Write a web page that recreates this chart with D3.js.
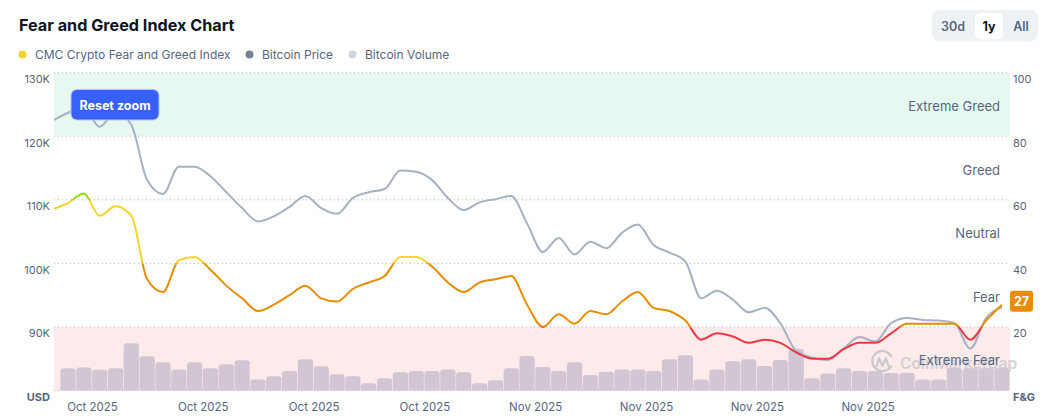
<!DOCTYPE html>
<html>
<head>
<meta charset="utf-8">
<script src="https://cdn.jsdelivr.net/npm/d3@7/dist/d3.min.js"></script>
<style>
  html, body { margin: 0; padding: 0; background: #ffffff; }
  svg { display: block; font-family: Inter, "Noto Sans", sans-serif; }
</style>
</head>
<body>
<svg id="chart" width="1050" height="419"></svg>
<script>
// ---------------- DATA ----------------
// Daily points, 2025-10-04 .. 2025-12-03 (first point only partly visible)
const startDay = "2025-10-04";
const fearGreed = [57, 59, 62, 55, 58, 55, 35, 31, 41, 42, 38, 33, 29, 25, 27, 30, 33, 29, 28, 32,
  34, 36, 42, 42, 39, 34, 31, 34, 35, 36, 27, 20, 24, 21, 25, 24, 28, 31, 26, 25,
  22, 16, 18, 17, 15, 16, 15, 12, 10, 10, 13, 15, 15, 18, 21, 21, 21, 21, 16, 22, 27];
const btcPrice = [122400, 123700, 124500, 121500, 123800, 121800, 113100, 110900, 115200, 115200, 113700,
  111200, 108700, 106600, 107400, 108900, 110600, 108700, 107800, 110300, 111200,
  111700, 114600, 114400, 113100, 110300, 108400, 109600, 110100, 110600, 106300,
  101800, 104000, 101400, 103400, 102400, 104800, 106100, 102900, 101700, 100300,
  94500, 95700, 94300, 92300, 93000, 90600, 86200, 85200, 84800, 86600,
  88400, 87700, 90600, 91400, 91100, 91000, 90600, 86600, 91400, 93100];
// Volume in billions USD (first day not shown)
const btcVolume = [null, 56, 58, 52, 56, 119, 86, 71, 53, 71, 56, 66, 76, 28, 36, 49, 79, 61, 41, 36,
  18, 31, 46, 49, 49, 53, 46, 18, 26, 56, 87, 59, 49, 71, 39, 47, 53, 53, 49, 79,
  89, 28, 53, 74, 79, 62, 77, 105, 31, 43, 56, 49, 49, 44, 45, 28, 28, 56, 56, 56, 56];
const priceTicks = [90000, 100000, 110000, 120000, 130000];
const fgTicks = [20, 40, 60, 80, 100];
const xTickDates = ["2025-10-06T13:08Z", "2025-10-13T13:08Z", "2025-10-20T13:08Z", "2025-10-27T13:08Z",
  "2025-11-03T13:08Z", "2025-11-10T13:08Z", "2025-11-17T13:08Z", "2025-11-24T13:08Z"];
const zones = [
  { name: "Extreme Fear", from: 0, to: 20 },
  { name: "Fear", from: 20, to: 40 },
  { name: "Neutral", from: 40, to: 60 },
  { name: "Greed", from: 60, to: 80 },
  { name: "Extreme Greed", from: 80, to: 100 }
];
const legendItems = ["CMC Crypto Fear and Greed Index", "Bitcoin Price", "Bitcoin Volume"];
const rangeButtons = ["30d", "1y", "All"];
const selectedRange = "1y";

// ---------------- LAYOUT ----------------
const svg = d3.select("#chart");
const L = 54, R = 1010, T = 72.7, B = 390.5;
const colors = {
  red: "#ea3943", orange: "#ea8c00", yellow: "#f3d42f", green: "#93d900", egreen: "#16c784",
  price: "#a7b1c2", priceDot: "#7a8296", volume: "#d2c6d4", volDot: "#cfd6e4",
  text: "#58667e", dark: "#0d1421"
};

const day0 = d3.utcParse("%Y-%m-%d")(startDay);
const dates = fearGreed.map((_, i) => d3.utcDay.offset(day0, i));
const rows = dates.map((d, i) => ({ date: d, fg: fearGreed[i], price: btcPrice[i], vol: btcVolume[i] }));

const x = d3.scaleUtc()
  .domain([new Date("2025-10-04T02:47Z"), new Date("2025-12-03T12:15Z")])
  .range([L, R]);
const yP = d3.scaleLinear().domain([80000, 130000]).range([B, T]);
const yF = d3.scaleLinear().domain([0, 100]).range([B, T]);
const yV = d3.scaleLinear().domain([0, 160]).range([B, B - 63.5]);
const step = x(dates[1]) - x(dates[0]);

// ---------------- TITLE / LEGEND ----------------
svg.append("text").attr("x", 19).attr("y", 31)
  .attr("font-size", 16.2).attr("font-weight", 700).attr("fill", colors.dark)
  .text("Fear and Greed Index Chart");

const legendColors = [colors.yellow, colors.priceDot, colors.volDot];
const legendX = [22.5, 249.5, 352.5];
legendItems.forEach((t, i) => {
  svg.append("circle").attr("cx", legendX[i]).attr("cy", 54.5).attr("r", 4).attr("fill", legendColors[i]);
  svg.append("text").attr("x", legendX[i] + 12.5).attr("y", 58.8)
    .attr("font-size", 12).attr("fill", colors.text).text(t);
});

// Range buttons
svg.append("rect").attr("x", 932).attr("y", 10).attr("width", 106).attr("height", 31.5)
  .attr("rx", 8).attr("fill", "#eff2f5");
const btnCx = [953, 989, 1021];
rangeButtons.forEach((t, i) => {
  if (t === selectedRange) {
    svg.append("rect").attr("x", btnCx[i] - 14).attr("y", 12.7).attr("width", 28).attr("height", 26.6)
      .attr("rx", 6).attr("fill", "#ffffff");
  }
  svg.append("text").attr("x", btnCx[i]).attr("y", 30.5).attr("text-anchor", "middle")
    .attr("font-size", 12.5).attr("font-weight", t === selectedRange ? 700 : 600)
    .attr("fill", t === selectedRange ? colors.dark : colors.text).text(t);
});

// ---------------- PLOT BACKGROUND ----------------
const g = svg.append("g");
g.append("rect").attr("x", L).attr("width", R - L)
  .attr("y", yF(100)).attr("height", yF(80) - yF(100)).attr("fill", "#e7f8f1");
g.append("rect").attr("x", L).attr("width", R - L)
  .attr("y", yF(20)).attr("height", yF(0) - yF(20)).attr("fill", "#fdeaea");

// grid lines
const gridVals = [0].concat(fgTicks);
g.selectAll("line.grid").data(gridVals).join("line")
  .attr("x1", L).attr("x2", R - 2)
  .attr("y1", d => yF(d)).attr("y2", d => yF(d))
  .attr("stroke", "#aeb5c0").attr("stroke-width", 1).attr("stroke-dasharray", "1,3");

// clip
svg.append("defs").append("clipPath").attr("id", "plotclip")
  .append("rect").attr("x", L).attr("y", T - 2).attr("width", R - L).attr("height", B - T + 2);

// ---------------- VOLUME BARS ----------------
const bw = step - 0.6;
const r = 3;
const bars = rows.filter(d => d.vol != null && x(d.date) - bw / 2 >= L);
g.append("g").selectAll("path").data(bars).join("path")
  .attr("fill", colors.volume)
  .attr("d", d => {
    const x0 = x(d.date) - bw / 2, x1 = x(d.date) + bw / 2, yt = yV(d.vol), yb = B;
    return `M${x0},${yb}V${yt + r}Q${x0},${yt} ${x0 + r},${yt}H${x1 - r}Q${x1},${yt} ${x1},${yt + r}V${yb}Z`;
  });

// ---------------- WATERMARK ----------------
const wm = svg.append("g").attr("opacity", 0.75);
wm.append("path")
  .attr("d", "M891,366 A10,10 0 1 1 891.5,357")
  .attr("fill", "none").attr("stroke", "#b9bcc4").attr("stroke-width", 2.2);
wm.append("path")
  .attr("d", "M876.5,367 L879,358 L882.5,366 L886,358 L888.5,366 Q890,368 892,366")
  .attr("fill", "none").attr("stroke", "#b9bcc4").attr("stroke-width", 2).attr("stroke-linejoin", "round");
wm.append("text").attr("x", 900).attr("y", 368.5).attr("font-size", 15.5).attr("font-weight", 600)
  .attr("fill", "#c3c6cd").text("CoinMarketCap");

// ---------------- LINES ----------------
const lines = g.append("g").attr("clip-path", "url(#plotclip)");
const priceLine = d3.line().x(d => x(d.date)).y(d => yP(d.price)).curve(d3.curveMonotoneX);
lines.append("path").datum(rows).attr("d", priceLine)
  .attr("fill", "none").attr("stroke", colors.price).attr("stroke-width", 2);

const grad = svg.select("defs").append("linearGradient").attr("id", "fggrad")
  .attr("gradientUnits", "userSpaceOnUse")
  .attr("x1", 0).attr("x2", 0).attr("y1", yF(0)).attr("y2", yF(100));
const stops = [
  [0, colors.red], [0.195, colors.red], [0.205, colors.orange], [0.395, colors.orange],
  [0.405, colors.yellow], [0.595, colors.yellow], [0.605, colors.green], [0.795, colors.green],
  [0.805, colors.egreen], [1, colors.egreen]
];
stops.forEach(s => grad.append("stop").attr("offset", s[0]).attr("stop-color", s[1]));

const fgLine = d3.line().x(d => x(d.date)).y(d => yF(d.fg)).curve(d3.curveMonotoneX);
lines.append("path").datum(rows).attr("d", fgLine)
  .attr("fill", "none").attr("stroke", "url(#fggrad)").attr("stroke-width", 2);

// ---------------- ZONE LABELS ----------------
svg.append("g").selectAll("text").data(zones).join("text")
  .attr("x", 1000).attr("y", d => yF((d.from + d.to) / 2) + 6.5)
  .attr("text-anchor", "end").attr("font-size", 13).attr("fill", colors.text)
  .text(d => d.name);

// ---------------- AXES ----------------
const fmtK = v => (v / 1000) + "K";
const leftAxis = svg.append("g");
leftAxis.selectAll("text").data(priceTicks).join("text")
  .attr("x", 50).attr("y", d => yP(d) + 10.3).attr("text-anchor", "end")
  .attr("font-size", 11).attr("fill", colors.text).text(fmtK);
leftAxis.append("text").attr("x", 50).attr("y", B + 10).attr("text-anchor", "end")
  .attr("font-size", 11).attr("font-weight", 700).attr("fill", colors.text).text("USD");

const rightAxis = svg.append("g");
rightAxis.selectAll("text").data(fgTicks).join("text")
  .attr("x", 1013).attr("y", d => yF(d) + 10.3)
  .attr("font-size", 11).attr("fill", colors.text).text(d => d);
rightAxis.append("text").attr("x", 1013).attr("y", B + 10)
  .attr("font-size", 11).attr("font-weight", 700).attr("fill", colors.text).text("F&G");

const xAxis = svg.append("g");
const fmtX = d3.utcFormat("%b %Y");
xAxis.selectAll("text").data(xTickDates.map(s => new Date(s))).join("text")
  .attr("x", d => x(d)).attr("y", 410.5).attr("text-anchor", "middle")
  .attr("font-size", 11.5).attr("fill", colors.text).text(fmtX);

// ---------------- CURRENT VALUE BADGE ----------------
const last = rows[rows.length - 1];
const by = yF(last.fg) - 3.5;
svg.append("rect").attr("x", 1010).attr("y", by - 10.5).attr("width", 23).attr("height", 21)
  .attr("rx", 3).attr("fill", colors.orange);
svg.append("text").attr("x", 1021.5).attr("y", by + 4.5).attr("text-anchor", "middle")
  .attr("font-size", 12.5).attr("font-weight", 700).attr("fill", "#ffffff").text(last.fg);

// ---------------- RESET ZOOM BUTTON ----------------
svg.append("rect").attr("x", 71).attr("y", 89.5).attr("width", 88).attr("height", 30.5)
  .attr("rx", 6).attr("fill", "#3861fb").attr("stroke", "#b4c2f7").attr("stroke-width", 1);
svg.append("text").attr("x", 115).attr("y", 109.5).attr("text-anchor", "middle")
  .attr("font-size", 12.5).attr("font-weight", 700).attr("fill", "#ffffff").text("Reset zoom");
</script>
</body>
</html>
